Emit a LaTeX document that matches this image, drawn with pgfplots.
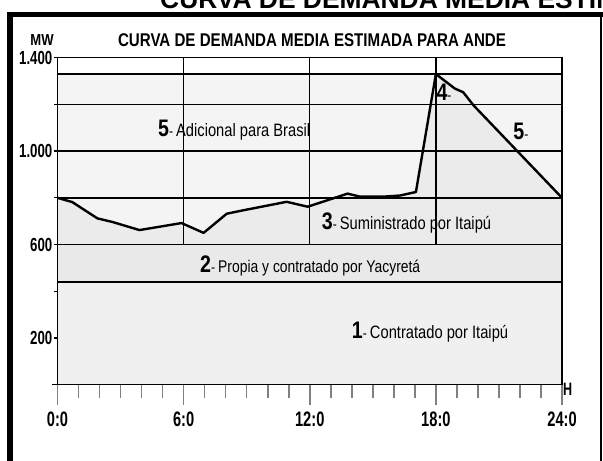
\documentclass[border=0pt]{standalone}
\usepackage{fontspec}
\setmainfont[FakeStretch=0.82]{Liberation Sans}
\newfontfamily\wide{Liberation Sans}
\newfontfamily\cond[FakeStretch=0.70]{Liberation Sans}
\usepackage{pgfplots}
\pgfplotsset{compat=1.18}
\usepackage{pgfplotstable}
\newcommand{\fs}[1]{\fontsize{#1}{#1}\selectfont}
\newcommand{\lbl}[3][18]{{\bfseries\fs{24}#2}{\fs{15}-}\hspace{3bp}{\fs{#1}#3}}

\pgfplotstableread{
h mw
0 800
0.7 782
1.9 712
2.6 697
3.9 662
5.9 692
6.95 650
8.05 732
8.8 746
10.9 783
11.9 762
13.8 818
14.4 805
15.5 805
16.3 810
17.05 825
18 1330
18.9 1268
19.3 1252
19.8 1195
24 800
}\demand

\pgfplotstableread{
h mw
0 600
0 800
0.7 782
1.9 712
2.6 697
3.9 662
5.9 692
6.95 650
8.05 732
8.8 746
10.9 783
11.9 762
13.8 818
14.4 805
15.5 805
16.3 810
17.05 825
18 1330
18.9 1268
19.3 1252
19.8 1195
24 800
24 600
}\regionthree

\begin{document}
\begin{tikzpicture}[x=1bp,y=1bp]
% outer frame
\draw[line width=5bp] (7,446.5) -- (606,446.5);
\draw[line width=6bp] (10,449) -- (10,-5);
\draw[line width=1.5bp] (601,446) -- (601,-5);
% cut-off heading at the very top
\node[anchor=base west, inner sep=0] at (160bp,452.5bp) {\wide\bfseries\fs{26.5}CURVA DE DEMANDA MEDIA ESTIMADA PARA ANDE};
% inner title
\node[inner sep=0] at (312bp,421bp) {\bfseries\fs{18.5}CURVA DE DEMANDA MEDIA ESTIMADA PARA ANDE};
\node[inner sep=0] at (42bp,421bp) {\bfseries\fs{16}MW};
\begin{axis}[
  at={(57.5bp,76.3bp)}, anchor=south west, scale only axis,
  width=504.5bp, height=327bp,
  xmin=0, xmax=24, ymin=0, ymax=1400,
  clip=false, axis on top,
  axis line style={line width=1.3bp},
  tick align=outside, tick pos=left,
  major tick length=20bp, minor tick length=13bp,
  tick style={line width=1.6bp},
  every minor tick/.append style={line width=1.6bp},
  xtick={0,6,12,18,24},
  xticklabels={0:0,6:0,12:0,18:0,24:0},
  minor xtick={1,2,3,4,5,7,8,9,10,11,13,14,15,16,17,19,20,21,22,23},
  ytick={200,400,600,800,1000,1200,1400},
  yticklabels={200,,600,,1.000,,1.400},
  ytick style={draw=none},
  /pgf/number format/assume math mode=true,
  xticklabel style={font=\cond\bfseries\fs{21}, text=black, yshift=-4bp},
  yticklabel style={font=\cond\bfseries\fs{19}, inner sep=1bp, text=black, xshift=16bp},
]
% shaded regions
\addplot[fill=gray!9, draw=none] coordinates {(0,0) (24,0) (24,1330) (0,1330)};
\addplot[fill=gray!12, draw=none] coordinates {(0,0) (24,0) (24,440) (0,440)};
\addplot[fill=gray!17, draw=none] coordinates {(0,440) (24,440) (24,600) (0,600)};
\addplot[fill=gray!16, draw=none] table[x=h, y=mw] {\regionthree};
% horizontal bands
\addplot[black, line width=1.8bp] coordinates {(0,440) (24,440)};
\addplot[black, line width=1.8bp] coordinates {(0,600) (24,600)};
\addplot[black, line width=1.6bp] coordinates {(0,800) (24,800)};
\addplot[black, line width=1.6bp] coordinates {(0,1000) (24,1000)};
\addplot[black, line width=1.6bp] coordinates {(0,1200) (24,1200)};
\addplot[black, line width=1.6bp] coordinates {(0,1330) (24,1330)};
% vertical lines
\addplot[black, line width=1.3bp] coordinates {(6,600) (6,1400)};
\addplot[black, line width=1.3bp] coordinates {(12,600) (12,1400)};
\addplot[black, line width=1.3bp] coordinates {(18,600) (18,1400)};
% demand curve
\addplot[black, line width=2.4bp, line join=round] table[x=h, y=mw] {\demand};
% labels
\node[anchor=west, inner sep=0] at (axis cs:4.78,1090) {\lbl{5}{Adicional para Brasil}};
\node[anchor=west, inner sep=0] at (axis cs:18.02,1252) {\lbl{4}{}};
\node[anchor=west, inner sep=0] at (axis cs:21.68,1085) {\lbl{5}{}};
\node[anchor=west, inner sep=0] at (axis cs:12.57,692) {\lbl{3}{Suministrado por Itaipú}};
\node[anchor=west, inner sep=0] at (axis cs:6.78,507) {\lbl[17]{2}{Propia y contratado por Yacyretá}};
\node[anchor=west, inner sep=0] at (axis cs:14.0,225) {\lbl{1}{Contratado por Itaipú}};
\node[anchor=west, inner sep=1bp, yshift=-5bp] at (axis cs:24,0) {\cond\bfseries\fs{18}H};
\draw[line width=1.3bp] (axis cs:0,0) -- ++(-6bp,0);
\pgfplotsinvokeforeach{200,400,600,800,1000,1200,1400}{
  \draw[line width=1.3bp] (axis cs:0,#1) -- ++(-4bp,0);
}
\end{axis}
\pgfresetboundingbox
\useasboundingbox (0,0) rectangle (603,461);
\end{tikzpicture}
\end{document}
